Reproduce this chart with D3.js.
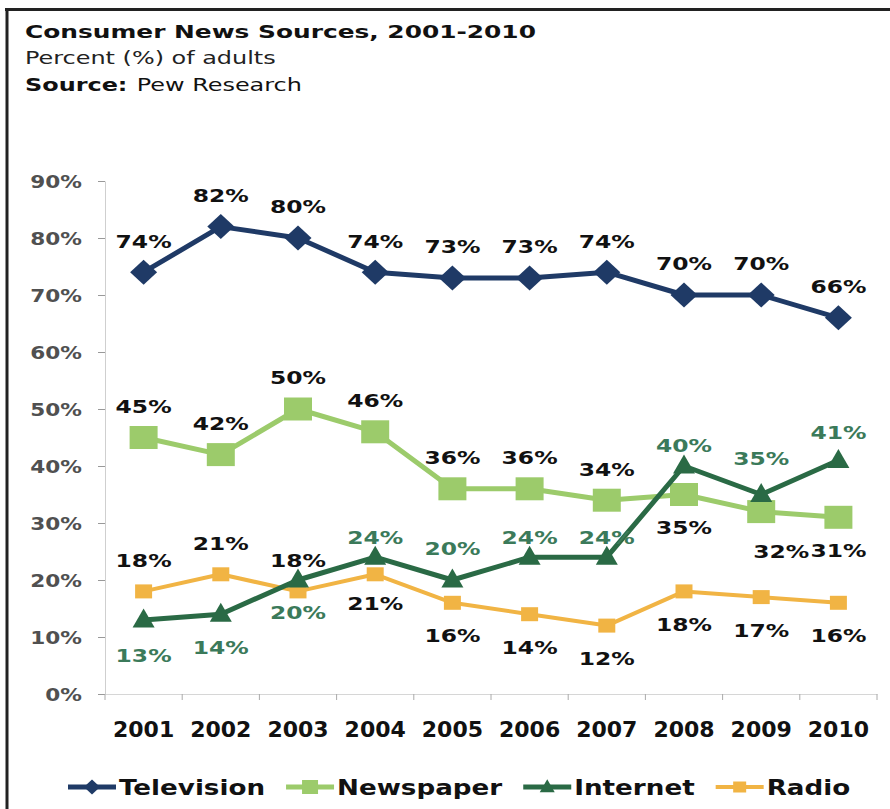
<!DOCTYPE html>
<html>
<head>
<meta charset="utf-8">
<script src="https://cdn.jsdelivr.net/npm/d3@7"></script>
<style>
    html, body { margin: 0; background: #fff; overflow: hidden; }
    svg { display: block; font-family: "DejaVu Sans", Verdana, sans-serif; }
</style>
</head>
<body>
<svg id="chart" width="890" height="809"></svg>
<script>
// Data
var years = ["2001", "2002", "2003", "2004", "2005", "2006", "2007", "2008", "2009", "2010"];
var television = [74, 82, 80, 74, 73, 73, 74, 70, 70, 66];
var newspaper = [45, 42, 50, 46, 36, 36, 34, 35, 32, 31];
var internet = [13, 14, 20, 24, 20, 24, 24, 40, 35, 41];
var radio = [18, 21, 18, 21, 16, 14, 12, 18, 17, 16];
var yTicks = [0, 10, 20, 30, 40, 50, 60, 70, 80, 90];

// where each value label sits: a = above the marker, b = below
var tvPlace = ["a", "a", "a", "a", "a", "a", "a", "a", "a", "a"];
var newsPlace = ["a", "a", "a", "a", "a", "a", "a", "b", "b", "b"];
var netPlace = ["b", "b", "b", "a", "a", "a", "a", "a", "a", "a"];
var radioPlace = ["a", "a", "a", "b", "b", "b", "b", "b", "b", "b"];

var graph = (function () {
    var svg = d3.select("svg#chart"),
        plot = {left: 105, right: 877, top: 181, bottom: 694},
        SX = 1.3; // the source picture is stretched sideways

    // text that is stretched horizontally around its own x
    function stretched(sel, x, y, sx) {
        return sel.attr("x", x / sx).attr("y", y).attr("transform", "scale(" + sx + ",1)");
    }

    function marker(type, w, h) {
        if (type === "diamond") {
            return "M0," + (-h / 2) + "L" + (w / 2) + ",0L0," + (h / 2) + "L" + (-w / 2) + ",0Z";
        }
        if (type === "triangle") {
            return "M0," + (-h * 0.6) + "L" + (w / 2) + "," + (h * 0.4) + "L" + (-w / 2) + "," + (h * 0.4) + "Z";
        }
        return "M" + (-w / 2) + "," + (-h / 2) + "h" + w + "v" + h + "h" + (-w) + "Z";
    }

    function create() {
        // titles
        stretched(svg.append("text"), 25, 38, 1.38)
            .attr("font-size", 18).attr("font-weight", "bold").attr("fill", "#111")
            .text("Consumer News Sources, 2001-2010");
        stretched(svg.append("text"), 25, 64, 1.33)
            .attr("font-size", 18).attr("fill", "#222")
            .text("Percent (%) of adults");
        var src = stretched(svg.append("text"), 25, 91, 1.33)
            .attr("font-size", 18).attr("fill", "#111");
        src.append("tspan").attr("font-weight", "bold").text("Source:");
        src.append("tspan").attr("dx", 7).text("Pew Research");

        // scales
        var x = d3.scaleBand().domain(years).range([plot.left, plot.right]),
            cx = function (i) { return x(years[i]) + x.bandwidth() / 2; },
            y = d3.scaleLinear().domain([0, 90]).range([plot.bottom, plot.top]);

        // y axis
        var yAxis = d3.axisLeft(y).tickValues(yTicks).tickSize(7).tickSizeOuter(0)
            .tickFormat(function (d) { return d + "%"; });
        var gy = svg.append("g").attr("transform", "translate(" + plot.left + ",0)").call(yAxis);
        gy.select(".domain").attr("stroke", "#cfcfcf");
        gy.selectAll(".tick line").attr("stroke", "#999");
        gy.selectAll(".tick text")
            .attr("font-size", 18).attr("font-weight", "bold")
            .attr("fill", "#505050").attr("dy", "0.36em")
            .attr("x", -23 / 1.2).attr("transform", "scale(1.2,1)");
        gy.attr("font-family", null).attr("font-size", null);

        // x axis, with small ticks on the category boundaries
        var xAxis = d3.axisBottom(x).tickSize(0).tickSizeOuter(0);
        var gx = svg.append("g").attr("transform", "translate(0," + plot.bottom + ")").call(xAxis);
        gx.select(".domain").attr("stroke", "#d6d6d6");
        gx.selectAll(".tick text")
            .attr("font-size", 22).attr("font-weight", "bold").attr("fill", "#111")
            .attr("y", 43).attr("dy", 0);
        gx.attr("font-family", null).attr("font-size", null);
        var bounds = years.map(function (d) { return x(d); });
        bounds.push(x(years[years.length - 1]) + x.step());
        bounds.forEach(function (bx) {
            gx.append("line").attr("x1", bx).attr("x2", bx).attr("y1", 0).attr("y2", 6)
                .attr("stroke", "#aaa");
        });

        // series, in drawing order
        var series = [
            {name: "Radio", values: radio, place: radioPlace, color: "#f1b444", text: "#111",
                shape: "square", w: 17, h: 14, lw: 4, lgW: 13, lgH: 11},
            {name: "Newspaper", values: newspaper, place: newsPlace, color: "#9ccb6b", text: "#111",
                shape: "square", w: 28, h: 23, lw: 5, lgW: 16, lgH: 14},
            {name: "Internet", values: internet, place: netPlace, color: "#2a6a45", text: "#3b7a5a",
                shape: "triangle", w: 22, h: 19, lw: 5, lgW: 15, lgH: 13},
            {name: "Television", values: television, place: tvPlace, color: "#1f3a66", text: "#111",
                shape: "diamond", w: 27, h: 25, lw: 5, lgW: 16, lgH: 15}
        ];

        // small nudges for crowded labels: [dx, dy]
        var nudge = {
            "Internet-3": [0, 11], "Internet-5": [0, 11], "Internet-6": [0, 11],
            "Internet-7": [0, 11], "Internet-8": [0, -5], "Internet-9": [0, 3],
            "Internet-0": [0, 3], "Newspaper-8": [20, 7], "Radio-3": [0, -4]
        };

        series.forEach(function (s) {
            var line = d3.line()
                .x(function (d, i) { return cx(i); })
                .y(function (d) { return y(d); });

            svg.append("path")
                .attr("d", line(s.values))
                .attr("fill", "none")
                .attr("stroke", s.color)
                .attr("stroke-width", s.lw)
                .attr("stroke-linejoin", "round");

            svg.append("g").selectAll("path")
                .data(s.values)
                .enter().append("path")
                .attr("d", marker(s.shape, s.w, s.h))
                .attr("transform", function (d, i) { return "translate(" + cx(i) + "," + y(d) + ")"; })
                .attr("fill", s.color);
        });

        // value labels on top
        series.forEach(function (s) {
            svg.append("g").selectAll("text")
                .data(s.values)
                .enter().append("text")
                .each(function (d, i) {
                    var n = nudge[s.name + "-" + i] || [0, 0],
                        mid = y(d) + (s.place[i] === "a" ? -31 : 33) + n[1];
                    stretched(d3.select(this), cx(i) + n[0], mid + 6.5, SX);
                })
                .attr("text-anchor", "middle")
                .attr("font-size", 18)
                .attr("font-weight", "bold")
                .attr("fill", s.text)
                .text(function (d) { return d + "%"; });
        });

        // legend
        var legendOrder = ["Television", "Newspaper", "Internet", "Radio"],
            lx = 68, ly = 787, lsx = 1.19;
        legendOrder.forEach(function (name) {
            var s = series.filter(function (d) { return d.name === name; })[0];
            var g = svg.append("g");
            g.append("line").attr("x1", lx).attr("x2", lx + 48).attr("y1", ly).attr("y2", ly)
                .attr("stroke", s.color).attr("stroke-width", s.lw);
            g.append("path").attr("d", marker(s.shape, s.lgW, s.lgH))
                .attr("transform", "translate(" + (lx + 24) + "," + ly + ")")
                .attr("fill", s.color);
            var t = stretched(g.append("text"), lx + 51, ly + 8, lsx)
                .attr("font-size", 22).attr("font-weight", "bold").attr("fill", "#111")
                .text(name);
            lx = lx + 51 + t.node().getComputedTextLength() * lsx + 21;
        });

        // keep the right margin clean, then the frame on top
        svg.append("rect").attr("x", 879).attr("y", 11).attr("width", 11).attr("height", 798)
            .attr("fill", "#fff");
        svg.append("line").attr("x1", 5).attr("x2", 890).attr("y1", 9.5).attr("y2", 9.5)
            .attr("stroke", "#222").attr("stroke-width", 3);
        svg.append("line").attr("x1", 7).attr("x2", 7).attr("y1", 8).attr("y2", 809)
            .attr("stroke", "#222").attr("stroke-width", 3);
    }

    return {create: create};
})();

graph.create();
</script>
</body>
</html>
